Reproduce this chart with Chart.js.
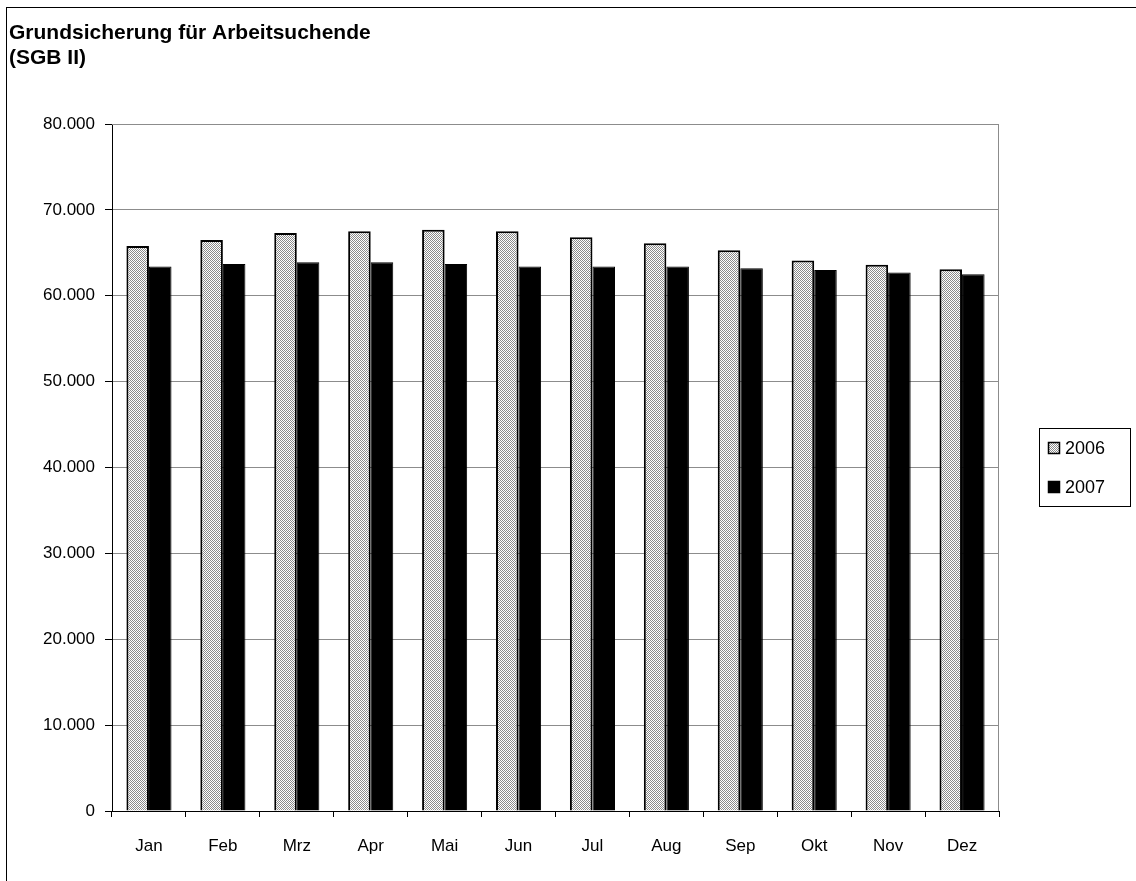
<!DOCTYPE html>
<html>
<head>
<meta charset="utf-8">
<script src="https://cdn.jsdelivr.net/npm/chart.js@4/dist/chart.umd.min.js"></script>
<style>
  html, body { margin: 0; padding: 0; background: #fff; }
  #wrap { position: relative; width: 1136px; height: 881px; overflow: hidden; }
  #frame { position: absolute; left: 6px; top: 7px; width: 1140px; height: 890px; border: 1px solid #000; box-sizing: border-box; }
  canvas { position: absolute; left: 0; top: 0; }
</style>
</head>
<body>
<div id="wrap">
  <div id="frame"></div>
  <canvas id="chart" width="1136" height="881"></canvas>
</div>
<script>
const months = ['Jan', 'Feb', 'Mrz', 'Apr', 'Mai', 'Jun', 'Jul', 'Aug', 'Sep', 'Okt', 'Nov', 'Dez'];
const values2006 = [65800, 66500, 67300, 67500, 67700, 67500, 66800, 66100, 65300, 64100, 63600, 63100];
const values2007 = [63400, 63700, 63900, 63900, 63700, 63400, 63400, 63400, 63200, 63000, 62700, 62500];
const yMin = 0;
const yMax = 80000;
const yStep = 10000;
const titleLines = ['Grundsicherung für Arbeitsuchende', '(SGB II)'];

const FONT = 'Arial, "Liberation Sans", sans-serif';

// fine dithered grey fill like the old Excel pattern
const makePattern = () => {
    const c = document.createElement('canvas');
    c.width = 2; c.height = 2;
    const g = c.getContext('2d');
    g.fillStyle = '#fff';
    g.fillRect(0, 0, 2, 2);
    g.fillStyle = '#8a8a8a';
    g.fillRect(0, 0, 1, 1);
    g.fillRect(1, 1, 1, 1);
    return g.createPattern(c, 'repeat');
};

// grey plot-area frame, drawn under the bars
const plotFrame = {
    id: 'plotFrame',
    beforeDatasetsDraw(chart) {
        const { ctx, chartArea: a } = chart;
        ctx.save();
        ctx.strokeStyle = '#8c8c8c';
        ctx.lineWidth = 1;
        ctx.beginPath();
        ctx.moveTo(a.left, a.top + 0.5);
        ctx.lineTo(a.right - 0.5, a.top + 0.5);
        ctx.lineTo(a.right - 0.5, a.bottom);
        ctx.stroke();
        ctx.restore();
    }
};

// two-line bold title in the top-left corner
const cornerTitle = {
    id: 'cornerTitle',
    afterDraw(chart) {
        const { ctx } = chart;
        ctx.save();
        ctx.font = 'bold 21px ' + FONT;
        ctx.fillStyle = '#000';
        ctx.textBaseline = 'alphabetic';
        titleLines.forEach((line, i) => ctx.fillText(line, 9, 39 + i * 25));
        ctx.restore();
    }
};

// boxed legend right of the plot
const boxLegend = {
    id: 'boxLegend',
    afterDraw(chart) {
        const { ctx, chartArea: a } = chart;
        const x = a.right + 40, w = 91, h = 78;
        const y = Math.round((a.top + a.bottom) / 2 - h / 2) - 1;
        ctx.save();
        ctx.strokeStyle = '#000';
        ctx.lineWidth = 1;
        ctx.strokeRect(x + 0.5, y + 0.5, w, h);
        ctx.font = '18px ' + FONT;
        ctx.textBaseline = 'middle';
        chart.data.datasets.forEach((ds, i) => {
            const cy = y + 20 + i * 39;
            ctx.fillStyle = ds.backgroundColor;
            ctx.fillRect(x + 9, cy - 6, 12, 12);
            ctx.strokeStyle = '#000';
            ctx.lineWidth = 1.5;
            ctx.strokeRect(x + 9.5, cy - 5.5, 11, 11);
            ctx.fillStyle = '#000';
            ctx.fillText(ds.label, x + 26, cy + 1);
        });
        ctx.restore();
    }
};

new Chart(document.getElementById('chart'), {
    type: 'bar',
    data: {
        labels: months,
        datasets: [{
            label: '2006',
            data: values2006,
            backgroundColor: makePattern(),
            borderColor: '#000',
            borderWidth: 2,
            categoryPercentage: 0.61,
            barPercentage: 1.0
        }, {
            label: '2007',
            data: values2007,
            backgroundColor: '#000',
            borderColor: '#000',
            borderWidth: 1,
            categoryPercentage: 0.61,
            barPercentage: 1.0
        }]
    },
    options: {
        responsive: false,
        animation: false,
        layout: { padding: { left: 0, top: 124, right: 137, bottom: 0 } },
        scales: {
            x: {
                grid: { display: true, drawOnChartArea: false, offset: true, tickLength: 6, tickColor: '#000' },
                border: { color: '#000', width: 1 },
                ticks: { color: '#000', font: { family: FONT, size: 17 }, padding: 19 },
                afterFit: s => { s.height = 70; }
            },
            y: {
                min: yMin,
                max: yMax,
                ticks: {
                    stepSize: yStep,
                    color: '#000',
                    font: { family: FONT, size: 17 },
                    padding: 10,
                    callback: v => v.toLocaleString('de-DE')
                },
                grid: { color: '#8c8c8c', tickColor: '#000', tickLength: 7 },
                border: { color: '#000', width: 1 },
                afterFit: s => { s.width = 112; }
            }
        },
        plugins: {
            legend: { display: false },
            tooltip: { enabled: false },
            title: { display: false }
        }
    },
    plugins: [plotFrame, boxLegend, cornerTitle]
});
</script>
</body>
</html>
